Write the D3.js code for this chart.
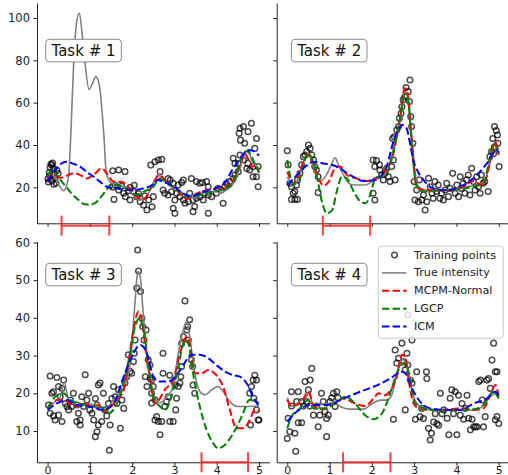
<!DOCTYPE html>
<html><head><meta charset="utf-8">
<script src="https://cdn.jsdelivr.net/npm/d3@7"></script>
<style>
body{margin:0;background:#fff;}
svg{display:block;font-family:"DejaVu Sans",sans-serif;}
</style></head><body>
<svg id="chart" width="508" height="475"></svg>
<script>
// ---------------- DATA ----------------
const xTicks = [0, 1, 2, 3, 4, 5];
const topYTicks = [20, 40, 60, 80, 100];
const bottomYTicks = [10, 20, 30, 40, 50, 60];
const taskNames = ["Task # 1", "Task # 2", "Task # 3", "Task # 4"];
const legendLabels = ["Training points", "True intensity", "MCPM-Normal", "LGCP", "ICM"];
const missingIntervals = [[0.33, 1.46], [0.84, 1.96], [3.64, 4.74], [1.32, 2.44]];
const intervalLevels = [1.9, 1.9, 1.7, 1.7];

const task1Points = [
[0.01,24],[0.02,22.5],[0.04,27],[0.06,29.5],[0.08,31],[0.1,30.5],[0.12,31.5],[0.14,29],[0.16,26],[0.18,24.5],[0.1,23],[0.05,25.5],[0.2,22],[0.22,28],[0.15,21.5],[0.25,26.5],
[1.54,27.8],[1.68,28.2],[1.83,27.4],[1.57,14.3],[1.54,20],[1.6,21],[1.68,18.7],[1.8,17.2],[1.91,18.4],[2.03,18],[2.11,15.6],[1.84,15.6],[1.95,14],[2.19,13.2],[2.27,11.6],[2.35,9.3],[2.47,10.8],[2.39,14],[2.5,15.6],[1.75,20.5],[1.95,20],[2.05,21],[2.15,17],[2.3,16],
[2.44,30.5],[2.54,32.1],[2.62,32.9],[2.7,33.2],[2.66,27.4],
[2.85,24.2],[2.9,23.4],[2.97,21.9],[3.09,21.1],[3.17,22.3],[3.21,23.4],[3.4,24.2],[3.52,22.7],[3.6,21.9],[3.66,22.3],[3.76,22.7],[3.8,20.3],
[2.73,18.7],[2.77,17.2],[2.85,16.4],[2.93,17.9],[3.01,14],[3.05,17.2],[3.13,15.6],[3.21,14],[3.25,12.5],[3.33,13.2],[3.36,17.2],[3.44,14],[3.48,10.9],[3.52,14.8],[3.6,15.6],[3.68,14],[3.72,17.2],[3.8,16.4],[3.88,15.6],[3.99,17.2],[4.03,19.5],[4.11,18.7],[4.19,20.3],[4.15,12.5],[4.23,21.9],[4.31,22.7],[4.39,24.2],[4.43,25.8],
[2.97,10.1],[3.01,7.7],[3.44,8.5],[3.8,7.7],
[4.39,33.7],[4.43,31.3],[4.51,31.3],[4.51,27.4],[4.53,45.5],[4.55,47.9],[4.56,42.3],[4.55,35.3],[4.63,48.7],[4.63,32.9],[4.66,40.8],[4.71,28.9],[4.74,46.3],[4.74,31.3],[4.78,28.2],[4.82,50.3],[4.86,25],[4.86,29.8],[4.9,38.4],[4.94,43.1],[4.94,25],[4.98,29.8],[4.98,20.3]
];
const task1True = [[0,24.3],[0.1,26],[0.2,24],[0.3,20],[0.38,18.4],[0.45,21],[0.5,26],[0.55,45],[0.62,80],[0.68,97],[0.75,102.3],[0.82,92],[0.88,80],[0.98,66.3],[1.06,69],[1.14,72.3],[1.23,67.5],[1.33,45],[1.39,26.6],[1.48,22.6],[1.6,21],[1.75,20.5],[1.9,19],[2.05,16],[2.2,14],[2.35,16],[2.5,22],[2.62,26],[2.75,23],[2.9,21],[3.05,19],[3.2,17],[3.35,15],[3.5,15.5],[3.65,17],[3.8,18],[3.95,18],[4.1,17.5],[4.25,19],[4.4,22],[4.55,29],[4.67,36],[4.75,38],[4.82,33],[4.9,31],[5,29]];
const task1MCPM = [[0,24],[0.1,26],[0.2,25],[0.3,24.5],[0.45,25.5],[0.6,26.5],[0.75,26],[0.93,24.2],[1.1,26],[1.28,29],[1.42,26],[1.56,22.7],[1.72,22.6],[1.88,21],[2.0,18],[2.11,15.6],[2.27,14.3],[2.4,18],[2.5,22],[2.65,25.8],[2.81,22.7],[3.05,18.7],[3.29,14.7],[3.52,17],[3.76,18.7],[3.99,19.5],[4.23,20],[4.39,23.5],[4.55,30.5],[4.65,36],[4.75,33],[4.82,29.8],[4.92,30],[5,27]];
const task1LGCP = [[0,25],[0.1,28.3],[0.2,26],[0.4,21.2],[0.55,17.5],[0.72,14.2],[0.88,12],[1.0,11.8],[1.12,12.5],[1.27,15.6],[1.4,19],[1.5,21.5],[1.65,21],[1.88,19.5],[2.11,16.4],[2.27,18],[2.5,20.3],[2.65,24.2],[2.89,21],[3.13,18],[3.29,15.6],[3.6,16.4],[3.91,18],[4.23,19.5],[4.39,22],[4.5,29],[4.6,35],[4.7,37],[4.78,36],[4.9,31.3],[5,27]];
const task1ICM = [[0,22.8],[0.1,26],[0.22,29],[0.35,31.5],[0.46,32.1],[0.6,31.2],[0.77,29.8],[0.93,27.2],[1.09,25],[1.25,22.5],[1.4,20.3],[1.62,19.5],[1.95,18.7],[2.27,19.5],[2.5,21.5],[2.6,23.5],[2.75,22.5],[2.97,20.5],[3.2,17.2],[3.4,15.8],[3.6,17.2],[3.8,18.5],[3.99,19.7],[4.2,22.5],[4.39,29],[4.5,32],[4.66,36.3],[4.8,37.5],[4.92,36.5],[5,35]];

const task2Points = [
[0,37.3],[0.02,30.6],[0.06,21.9],[0.1,20.3],[0.14,17.2],[0.1,14.3],[0.18,14.3],[0.24,14.3],[0.18,18],[0.22,21.1],[0.24,23.5],[0.3,26.6],[0.34,30.6],[0.38,34.5],[0.42,35.3],[0.46,36.9],[0.5,40],[0.54,38.4],[0.58,35.3],[0.62,32.9],[0.65,29.8],[0.69,28.2],[0.73,25],[0.73,17.5],
[2.03,32.9],[2.11,32.6],[2.07,29.8],[2.18,30.6],[2.03,17.2],[2.07,14],[2.19,28.2],[2.23,25.8],[2.27,23.5],[2.31,26.6],[2.35,29],[2.39,25],[2.43,22.7],[2.47,29.8],[2.51,32.9],[2.55,23.5],[2.49,43.1],[2.53,43.9],[2.59,47.1],[2.63,48.7],[2.65,52.6],[2.69,55],[2.71,58.1],[2.74,61.3],[2.78,62.8],[2.81,67.2],[2.86,65.2],[2.9,70.7],[2.89,60.5],[2.92,53.4],[2.94,48.7],[2.97,40.8],
[3.0,22.7],[3.02,14],[3.06,18.7],[3.1,13.2],[3.12,23.5],[3.18,14],[3.22,16.4],[3.26,9.3],[3.3,13.2],[3.34,24.3],[3.38,20.3],[3.42,17.2],[3.45,14.8],[3.49,22.7],[3.53,18],[3.57,21.1],[3.61,14.8],[3.65,17.2],[3.69,14],[3.73,18.7],[3.77,21.9],[3.81,15.6],[3.85,19.5],[3.91,26.6],[3.97,17.2],[4.01,21.1],[4.05,15.6],[4.09,25],[4.12,19.5],[4.16,21.9],[4.2,17.2],[4.24,23.5],[4.28,25.8],[4.32,16.4],[4.36,29],[4.4,22.7],[4.44,18.7],[4.48,25],[4.52,20.3],[4.56,17.2],[4.59,25.8],[4.63,21.9],[4.67,22.7],[4.75,18],[4.79,34.5],[4.83,36.9],[4.86,43.1],[4.9,48.7],[4.94,46.8],[4.97,44.7],[4.98,40.8],[5.01,29.8],[4.9,39.2],[4.88,36]
];
const task2True = [[0,25],[0.07,22],[0.14,20.3],[0.25,24],[0.38,32],[0.5,36],[0.6,31],[0.74,22.7],[0.9,25],[1.05,31],[1.13,34],[1.22,30],[1.33,25.9],[1.45,22],[1.57,21.1],[1.85,21.1],[2.05,23.5],[2.2,24.5],[2.35,27],[2.5,37.6],[2.6,46],[2.67,52],[2.73,60],[2.78,65.2],[2.83,64],[2.88,57],[2.94,45.5],[3.02,27],[3.1,20.5],[3.2,19],[3.4,18.5],[3.7,18.5],[4.0,19.5],[4.3,20.5],[4.5,21],[4.65,22.5],[4.8,32],[4.91,40.8],[5,37.6]];
const task2MCPM = [[0,27.4],[0.05,25],[0.12,21.5],[0.25,25],[0.38,32],[0.48,35.5],[0.62,31.3],[0.74,24.2],[0.86,20.8],[0.98,22.7],[1.13,29],[1.25,29.8],[1.41,25.8],[1.64,24.2],[1.88,23],[2.07,24.2],[2.27,26.6],[2.4,30],[2.51,36],[2.6,45],[2.67,53.4],[2.78,66.8],[2.83,66],[2.88,58],[2.94,42.4],[3.0,28],[3.06,20.3],[3.22,18.7],[3.5,18.5],[3.8,18.5],[4.1,19.5],[4.4,23],[4.55,21.5],[4.64,21],[4.75,28],[4.85,38],[4.91,41.6],[5,35.3]];
const task2LGCP = [[0,32.9],[0.05,27],[0.12,21.5],[0.27,22.7],[0.38,30],[0.47,36],[0.62,32.1],[0.74,21.1],[0.82,13.2],[0.94,7.7],[1.06,9.2],[1.17,18],[1.29,25],[1.41,24.2],[1.57,18],[1.73,13.3],[1.85,12.5],[1.96,16.4],[2.08,24.2],[2.35,26.6],[2.5,36],[2.67,53.4],[2.78,63.6],[2.86,61.3],[2.94,40.8],[3.06,20.3],[3.22,18],[3.6,18.5],[4.0,19],[4.4,20.3],[4.64,21.9],[4.75,30],[4.87,40.8],[5,36]];
const task2ICM = [[0,21.1],[0.23,25.8],[0.47,30.5],[0.62,32],[0.86,31.3],[1.17,29.8],[1.49,25.8],[1.8,23],[2.04,23.3],[2.2,25],[2.35,29.8],[2.51,41.6],[2.62,47],[2.72,49.5],[2.82,47.9],[2.9,41],[2.98,32.9],[3.1,27],[3.22,23.5],[3.45,19.5],[3.77,18.7],[4.09,20.3],[4.4,24.3],[4.72,31.3],[4.95,37.6],[5,36.5]];

const task3Points = [
[0.06,24.6],[0.22,24.2],[0.1,20],[0.14,20.4],[0.26,21.8],[0.34,21.3],[0.38,23.5],[0.3,19.1],[0.02,16.9],[0.06,14.7],[0.14,14],[0.18,12.9],[0.26,14.2],[0.34,12.5],[0.42,17.3],[0.46,16.5],[0.5,15.6],[0.54,18.2],[0.57,16.5],[0.61,20],[0.69,16.9],[0.73,14.7],[0.69,12.5],[0.77,12.9],[0.77,11.6],[0.81,19.1],[0.85,16.5],[0.89,24.9],[0.93,18.2],[0.97,20],[1.0,15.6],[1.05,14.7],[1.09,12.9],[1.13,18.6],[1.17,16.9],[1.2,22.2],[1.24,22.7],[1.2,11.6],[1.17,9.8],[1.13,8.5],[1.28,12.5],[1.32,20],[1.36,15.6],[1.4,14],[1.44,17.3],[1.48,11.6],[1.46,4.9],[1.52,18.6],[1.56,21.8],[1.6,19.1],[1.64,17.3],[1.68,20.9],[1.72,10.7],[1.76,18.2],[1.8,16],[1.83,22.7],[1.87,24.4],[1.91,30.2],[1.95,25.8],[1.99,25.3],[2.03,28.4],[2.05,30.6],[2.07,34.1],[2.11,47.9],[2.15,52.4],[2.13,58],[2.2,47],[2.25,37.7],[2.28,34.1],[2.33,36.8],[2.23,39.9],[2.31,24.4],[2.35,21.8],[2.43,24],[2.46,20],[2.54,12.9],[2.38,28.9],
[2.42,27.5],[2.46,23.5],[2.5,21.8],[2.46,17.4],[2.54,18.3],[2.58,13.8],[2.62,12.5],[2.66,9],[2.7,12.5],[2.73,30.6],[2.73,25.3],[2.77,16.5],[2.81,17.8],[2.85,19.1],[2.89,24.8],[2.89,12.5],[2.97,12.5],[3.01,22.2],[3.03,15.6],[3.05,18.7],[3.09,21.8],[3.13,22.7],[3.15,24.4],[3.17,27.1],[3.17,33.2],[3.21,35],[3.25,44.5],[3.29,36.8],[3.33,34.1],[3.31,37.7],[3.36,39.5],[3.4,28.9],[3.43,27.1],[3.44,22.2],[3.48,20],
[4.78,20],[4.82,21.8],[4.86,23.5],[4.9,24.8],[4.94,23.5],[4.8,11.6],[4.88,18.7],[4.98,12.9],[5.0,12.9],[4.94,15.6]
];
const task3True = [[0,16],[0.18,17.8],[0.3,19],[0.39,23],[0.5,18.2],[0.77,16.9],[1.0,17.3],[1.24,15.5],[1.4,16],[1.56,18.2],[1.72,20],[1.87,23.5],[1.97,29.7],[2.03,38.6],[2.09,47.4],[2.13,52.3],[2.19,51],[2.25,43],[2.33,32.4],[2.41,25.3],[2.5,19.5],[2.66,17.5],[2.82,19],[2.97,21.8],[3.09,30.6],[3.21,36.8],[3.29,39],[3.36,35],[3.48,25.3],[3.6,20.5],[3.72,19.6],[3.88,20.9],[4.03,21.8],[4.15,20.5],[4.31,17.8],[4.5,16.5],[4.78,16.5],[5,16.7]];
const task3MCPM = [[0,16],[0.22,18.2],[0.46,17.8],[0.61,16.5],[0.89,17.3],[1.05,16.5],[1.2,16.9],[1.32,15.1],[1.44,16],[1.64,18.2],[1.8,20.9],[1.91,28],[2.03,36.8],[2.15,41.7],[2.23,39.4],[2.31,32.4],[2.43,23.5],[2.54,17.3],[2.62,18],[2.77,20.9],[2.97,23.5],[3.13,30.6],[3.29,35],[3.36,33.2],[3.48,25.3],[3.64,25.3],[3.8,26.2],[3.99,24.8],[4.15,21.8],[4.31,15.6],[4.47,10.7],[4.63,10.7],[4.78,12.9],[4.9,15.6],[5,15.2]];
const task3LGCP = [[0,16],[0.18,19.1],[0.38,20],[0.54,18.2],[0.77,17.3],[1.0,16.5],[1.24,16.5],[1.44,14.7],[1.64,17.3],[1.8,22.7],[1.95,30.6],[2.07,37.7],[2.17,39.9],[2.27,36.8],[2.39,27.1],[2.5,19.1],[2.66,16.5],[2.77,15.6],[2.93,19.1],[3.09,27.1],[3.25,34.1],[3.33,33.2],[3.44,25.3],[3.6,16.5],[3.76,10.3],[3.92,6.7],[4.03,5.4],[4.19,6.3],[4.39,9.4],[4.59,13.8],[4.78,18.3],[5,17.4]];
const task3ICM = [[0,15.6],[0.22,17.3],[0.46,18.2],[0.69,16.9],[1.0,16.5],[1.32,15.6],[1.56,17.3],[1.8,24.4],[1.99,29.7],[2.19,32.8],[2.35,30.6],[2.5,24.5],[2.66,23.1],[2.85,23.1],[3.05,24.8],[3.21,27.5],[3.4,30.2],[3.6,30.2],[3.8,29.3],[3.99,27.5],[4.19,25.8],[4.39,24.8],[4.55,24.4],[4.71,22.6],[4.86,19.1],[5,16.5]];

const task4Points = [
[0,8],[0.02,13.4],[0.06,9.8],[0.1,16.6],[0.1,20.4],[0.18,9.4],[0.2,4.6],[0.26,20.4],[0.22,17.8],[0.26,12.2],[0.34,12.2],[0.34,17.8],[0.38,16.6],[0.42,23.1],[0.46,17.8],[0.5,20.9],[0.54,23.5],[0.58,26.6],[0.54,16.6],[0.62,14.2],[0.7,16.6],[0.73,11.1],[0.77,14.2],[0.81,20],[0.85,17.8],[0.89,15.1],[0.93,13.3],[0.93,8.5],[0.97,14.2],[1.01,17.8],[1.05,18.8],[1.09,20],[1.13,16.5],[1.17,20.4],[1.2,18.8],
[2.51,13.1],[2.55,31.5],[2.59,28],[2.63,29.3],[2.71,33.3],[2.75,28.4],[2.79,26.2],[2.83,30.6],[2.85,27.5],[2.91,23.5],[2.95,34.1],[2.85,40.8],[2.79,15.6],[2.95,22.7],[3.03,13.1],[3.06,25.7],[3.14,13.8],[3.18,16],[3.22,13.3],[3.29,25.7],[3.3,23.9],[3.34,10.7],[3.38,7.6],[3.41,9.4],[3.46,12.4],[3.5,14.6],[3.54,11.9],[3.58,11.5],[3.62,20],[3.66,14.6],[3.7,15.6],[3.78,13.4],[3.82,9],[3.85,18.7],[3.89,20.9],[3.93,14.6],[3.97,20.4],[4.01,9],[4.05,19.5],[4.09,14.2],[4.13,17.3],[4.17,13.1],[4.21,16],[4.25,19.5],[4.29,13.4],[4.33,10.3],[4.37,13.1],[4.41,11.1],[4.45,11.1],[4.49,11.1],[4.53,23.1],[4.57,23.5],[4.61,18.2],[4.64,11.1],[4.68,13.8],[4.72,23.5],[4.76,23.9],[4.8,21.3],[4.84,28.8],[4.88,33.3],[4.92,25.7],[4.96,25.7],[4.96,13.8],[5,12],[4.92,13]
];
const task4True = [[0,18.8],[0.1,16.6],[0.3,17.9],[0.46,19.1],[0.52,20.5],[0.62,16],[0.85,16],[1.09,17.8],[1.25,16.5],[1.48,15.8],[1.8,15.8],[2.04,17.5],[2.2,18.2],[2.35,18.2],[2.47,19.5],[2.59,25.3],[2.71,29],[2.79,28.4],[2.87,25.3],[2.99,19.1],[3.14,16.5],[3.38,15.6],[3.8,15.5],[4.2,15.5],[4.5,15.7],[4.64,16.9],[4.8,19.1],[4.96,20],[5,19.1]];
const task4MCPM = [[0,18.3],[0.1,16.6],[0.34,17.8],[0.5,20.4],[0.62,16.9],[0.85,15.8],[1.13,17.3],[1.33,18.6],[1.6,17.3],[1.84,16.6],[2.04,18.6],[2.16,20],[2.31,19.5],[2.47,21.3],[2.59,24.4],[2.71,30.2],[2.79,29.7],[2.87,23.5],[2.99,17.3],[3.14,15.8],[3.46,15.6],[3.85,15.8],[4.17,16],[4.41,15.6],[4.64,16],[4.8,19.5],[4.92,22.2],[5,19.1]];
const task4LGCP = [[0,10.7],[0.1,13.8],[0.3,16],[0.5,18.2],[0.62,16],[0.89,16],[1.13,17.3],[1.37,19.1],[1.6,17.3],[1.84,14.2],[2.04,13.1],[2.24,14.7],[2.39,18.6],[2.51,22.7],[2.63,26.2],[2.75,28],[2.87,25.8],[2.99,18.2],[3.14,16.3],[3.54,15.6],[4.01,15.6],[4.41,15.8],[4.64,16.9],[4.88,20.4],[5,18.6]];
const task4ICM = [[0,12.5],[0.22,15.1],[0.54,16.9],[0.93,16.9],[1.33,18.6],[1.72,20.4],[2.12,22.1],[2.43,23.9],[2.71,25.7],[2.79,25.3],[2.95,21.3],[3.14,17.8],[3.38,16],[3.7,15.6],[4.09,15.6],[4.41,17.3],[4.72,18.6],[4.92,20.4],[5,19.5]];

// ---------------- LAYOUT ----------------
const svg = d3.select("#chart");
const FONT = "DejaVu Sans, sans-serif";
const colX = [[37, 269.6], [276.7, 509.3]];
const rowY = [[223.3, 3], [462.3, 241.7]];
const rowDomain = [[3.0, 107.1], [1.7, 60.2]];
const rowTicks = [topYTicks, bottomYTicks];
const labelOffsets = [8.7, 14.7];
const labelTop = [39.3, 263.3];

const styles = {
  trueC: {stroke: "#808080", width: 1.6, dash: null},
  mcpm: {stroke: "#ff0000", width: 2, dash: "7.4,3.2"},
  lgcp: {stroke: "#008000", width: 2, dash: "7.4,3.2"},
  icm: {stroke: "#0000ff", width: 2, dash: "7.4,3.2"}
};

const panels = [
  {pts: task1Points, tr: task1True, m: task1MCPM, l: task1LGCP, i: task1ICM},
  {pts: task2Points, tr: task2True, m: task2MCPM, l: task2LGCP, i: task2ICM},
  {pts: task3Points, tr: task3True, m: task3MCPM, l: task3LGCP, i: task3ICM},
  {pts: task4Points, tr: task4True, m: task4MCPM, l: task4LGCP, i: task4ICM}
];
const defs = svg.append("defs");

panels.forEach((p, k) => {
  const col = k % 2, row = Math.floor(k / 2);
  const x = d3.scaleLinear().domain([-0.25, 5.25]).range(colX[col]);
  const y = d3.scaleLinear().domain(rowDomain[row]).range(rowY[row]);
  const g = svg.append("g");
  const cid = "clip" + k;
  defs.append("clipPath").attr("id", cid).append("rect")
    .attr("x", colX[col][0]).attr("y", rowY[row][1])
    .attr("width", colX[col][1] - colX[col][0]).attr("height", rowY[row][0] - rowY[row][1]);
  const plot = g.append("g").attr("clip-path", `url(#${cid})`);

  plot.selectAll("circle").data(p.pts).join("circle")
    .attr("cx", d => x(d[0])).attr("cy", d => y(d[1])).attr("r", 2.8)
    .attr("fill", "none").attr("stroke", "#000").attr("stroke-opacity", 0.7).attr("stroke-width", 1.5);

  const line = d3.line().x(d => x(d[0])).y(d => y(d[1])).curve(d3.curveMonotoneX);
  [[p.tr, styles.trueC], [p.m, styles.mcpm], [p.l, styles.lgcp], [p.i, styles.icm]].forEach(([data, s]) => {
    plot.append("path").attr("d", line(data)).attr("fill", "none")
      .attr("stroke", s.stroke).attr("stroke-width", s.width)
      .attr("stroke-dasharray", s.dash).attr("stroke-linejoin", "round");
  });

  // axes
  const xa = d3.axisBottom(x).tickValues(xTicks).tickSize(3.5).tickSizeOuter(0).tickPadding(0.5)
    .tickFormat(row === 0 ? "" : d3.format("d"));
  const ya = d3.axisLeft(y).tickValues(rowTicks[row]).tickSize(3.5).tickSizeOuter(0).tickPadding(3.5)
    .tickFormat(col === 1 ? "" : d3.format("d"));
  const gx = g.append("g").attr("transform", `translate(0,${rowY[row][0]})`).call(xa);
  const gy = g.append("g").attr("transform", `translate(${colX[col][0]},0)`).call(ya);
  gx.attr("font-size", 11);
  gy.attr("font-size", 11.5);
  [gx, gy].forEach(a => {
    a.attr("font-family", FONT);
    a.selectAll("path,line").attr("stroke", "#222").attr("stroke-width", 1);
    a.selectAll("text").attr("fill", "#222");
  });

  // missing interval error bar
  const iv = missingIntervals[k];
  const yy = y(intervalLevels[k]);
  const eb = g.append("g").attr("stroke", "#ff2020").attr("stroke-width", 2).attr("stroke-opacity", 0.85);
  eb.append("line").attr("x1", x(iv[0])).attr("x2", x(iv[1])).attr("y1", yy).attr("y2", yy);
  iv.forEach(v => eb.append("line").attr("x1", x(v)).attr("x2", x(v)).attr("y1", yy - 10).attr("y2", yy + 10));

  // task label
  const bx = colX[col][0] + labelOffsets[col], by = labelTop[row];
  g.append("rect").attr("x", bx).attr("y", by).attr("width", 75.6).attr("height", 22.6)
    .attr("rx", 3.5).attr("fill", "#fff").attr("stroke", "#8a8a8a").attr("stroke-width", 1);
  g.append("text").attr("x", bx + 37.8).attr("y", by + 11.5).attr("text-anchor", "middle")
    .attr("dominant-baseline", "central").attr("font-family", FONT).attr("font-size", 15)
    .attr("fill", "#111").text(taskNames[k]);
});

// legend
const lg = svg.append("g");
lg.append("rect").attr("x", 378.3).attr("y", 246.2).attr("width", 125).attr("height", 92)
  .attr("rx", 3).attr("fill", "#fff").attr("fill-opacity", 0.8).attr("stroke", "#cccccc").attr("stroke-width", 1);
const legendStyles = [null, styles.trueC, styles.mcpm, styles.lgcp, styles.icm];
legendLabels.forEach((lab, j) => {
  const cy = 255 + j * 17.9;
  if (j === 0) {
    lg.append("circle").attr("cx", 394.5).attr("cy", cy).attr("r", 2.8).attr("fill", "none")
      .attr("stroke", "#000").attr("stroke-opacity", 0.7).attr("stroke-width", 1.5);
  } else {
    const s = legendStyles[j];
    lg.append("line").attr("x1", 382).attr("x2", 406.5).attr("y1", cy).attr("y2", cy)
      .attr("stroke", s.stroke).attr("stroke-width", s.width).attr("stroke-dasharray", s.dash);
  }
  lg.append("text").attr("x", 414).attr("y", cy).attr("dominant-baseline", "central")
    .attr("font-family", FONT).attr("font-size", 11.2).attr("fill", "#222").text(lab);
});
</script>
</body></html>
